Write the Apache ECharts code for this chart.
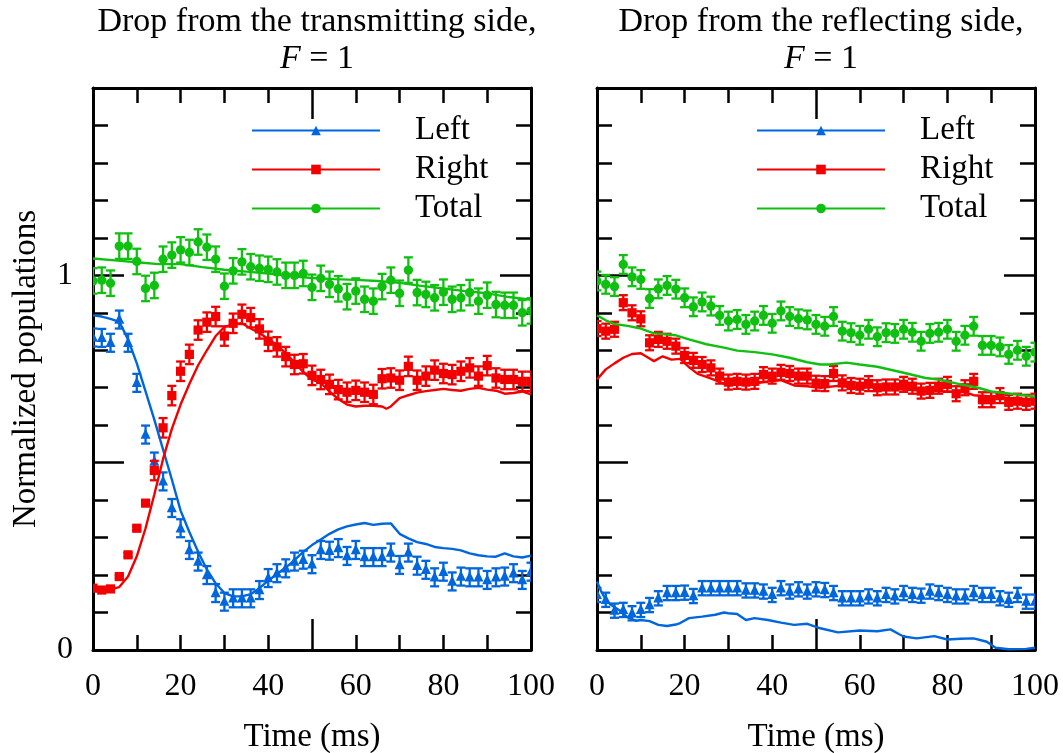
<!DOCTYPE html>
<html>
<head>
<meta charset="utf-8">
<script src="https://cdn.jsdelivr.net/npm/echarts@6/dist/echarts.min.js"></script>
<style>html,body{margin:0;padding:0;background:#fff}#c{width:1063px;height:753px}</style>
</head>
<body>
<div id="c"></div>
<script>
// ---------------- DATA ----------------
const panelTitles = ['Drop from the transmitting side,', 'Drop from the reflecting side,'];
const seriesNames = ['Left', 'Right', 'Total'];
const xTickLabels = [0, 20, 40, 60, 80, 100];
const yTickLabels = [0, 1];

// measurement times (ms)
const times = [0,2,4,6,8,10,12,14,16,18,20,22,24,26,28,30,32,34,36,38,40,42,44,46,48,50,
  52,54,56,58,60,62,64,66,68,70,72,74,76,78,80,82,84,86,88,90,92,94,96,98,100];

// Panel 1: drop from the transmitting side (measured)
const leftT = [0.834,0.833,0.82,0.882,0.82,0.713,0.575,0.503,0.45,0.379,0.325,0.267,0.236,0.2,0.152,0.129,0.138,0.138,0.138,0.16,0.192,0.205,0.218,0.236,0.241,0.229,
  0.267,0.265,0.272,0.251,0.267,0.248,0.248,0.248,0.26,0.227,0.26,0.225,0.214,0.194,0.209,0.183,0.196,0.194,0.194,0.187,0.194,0.196,0.205,0.187,0.209];
const rightT = [0.165,0.16,0.163,0.196,0.254,0.325,0.392,0.479,0.593,0.679,0.744,0.789,0.854,0.875,0.89,0.838,0.872,0.896,0.887,0.857,0.824,0.809,0.783,0.762,0.764,0.733,
  0.722,0.709,0.695,0.688,0.693,0.688,0.682,0.724,0.726,0.72,0.757,0.72,0.731,0.747,0.738,0.735,0.744,0.753,0.731,0.759,0.726,0.722,0.722,0.717,0.717];
const totalT = [0.985,0.987,0.979,1.078,1.078,1.037,0.965,0.973,1.043,1.054,1.068,1.061,1.089,1.075,1.043,0.971,1.012,1.036,1.023,1.019,1.016,1.009,1.0,1.0,1.005,0.968,
  0.992,0.976,0.964,0.943,0.958,0.936,0.931,0.97,0.987,0.952,1.014,0.954,0.949,0.94,0.955,0.936,0.94,0.954,0.931,0.947,0.922,0.92,0.92,0.9,0.905];
// error bar half-widths
const errLeftT = 0.024;
const errRightT = [0.004,0.004,0.004,0.004,0.005,0.005,0.005,0.026,0.026,0.026,0.026,0.026,0.026,0.026,0.026,0.026,0.026,0.026,0.026,0.026,0.026,0.026,0.026,0.026,0.026,0.026,
  0.026,0.026,0.026,0.026,0.026,0.026,0.026,0.026,0.026,0.026,0.026,0.026,0.026,0.026,0.026,0.026,0.026,0.026,0.026,0.026,0.026,0.026,0.026,0.026,0.026];
const errTotalT = 0.034;

// Panel 1 simulations [t, value]
const simLeftT = [[0,0.893],[2,0.89],[4,0.884],[6,0.876],[8,0.829],[10,0.765],[12,0.69],[14,0.615],[16,0.535],[18,0.455],[20,0.372],[22,0.315],[24,0.262],[26,0.215],[28,0.178],[30,0.152],[32,0.143],[34,0.143],[36,0.149],[38,0.165],[40,0.185],[42,0.203],[44,0.22],[46,0.24],[48,0.262],[50,0.28],[52,0.295],[54,0.31],[56,0.322],[58,0.33],[60,0.335],[62,0.339],[64,0.334],[66,0.337],[68,0.338],[70,0.31],[72,0.298],[74,0.288],[76,0.283],[78,0.275],[80,0.272],[82,0.27],[84,0.266],[86,0.258],[88,0.253],[90,0.25],[92,0.249],[94,0.258],[96,0.25],[98,0.247],[100,0.252]];
const simRightT = [[0,0.165],[2,0.163],[4,0.162],[6,0.168],[8,0.196],[10,0.25],[12,0.325],[14,0.415],[16,0.51],[18,0.59],[20,0.655],[22,0.71],[24,0.76],[26,0.8],[28,0.838],[30,0.862],[32,0.87],[34,0.872],[36,0.858],[38,0.846],[40,0.83],[42,0.814],[44,0.792],[46,0.768],[48,0.742],[50,0.722],[52,0.712],[54,0.69],[56,0.67],[58,0.655],[60,0.65],[62,0.652],[64,0.652],[66,0.65],[67,0.644],[68,0.65],[70,0.672],[72,0.68],[74,0.687],[76,0.691],[78,0.694],[80,0.697],[82,0.694],[84,0.692],[86,0.697],[88,0.7],[90,0.695],[92,0.692],[94,0.684],[96,0.686],[98,0.69],[100,0.682]];
const simTotalT = [[0,1.045],[5,1.04],[10,1.035],[15,1.03],[20,1.03],[25,1.022],[30,1.015],[35,1.01],[40,1.005],[45,0.998],[50,0.993],[55,0.99],[60,0.988],[65,0.985],[70,0.98],[75,0.972],[80,0.965],[85,0.958],[90,0.952],[95,0.942],[100,0.935]];

// Panel 2: drop from the reflecting side (measured)
const leftR = [0.147,0.134,0.105,0.107,0.098,0.107,0.12,0.138,0.152,0.152,0.153,0.144,0.165,0.165,0.165,0.165,0.165,0.159,0.159,0.156,0.147,0.165,0.156,0.162,0.156,0.162,
  0.16,0.152,0.138,0.138,0.138,0.143,0.138,0.147,0.143,0.152,0.147,0.145,0.156,0.152,0.147,0.143,0.143,0.152,0.147,0.147,0.138,0.134,0.147,0.129,0.129];
const rightR = [0.858,0.851,0.856,0.927,0.9,0.884,0.82,0.829,0.824,0.811,0.786,0.773,0.762,0.753,0.731,0.715,0.717,0.715,0.717,0.735,0.731,0.741,0.738,0.731,0.731,0.712,
  0.711,0.738,0.713,0.706,0.704,0.711,0.7,0.702,0.702,0.709,0.704,0.691,0.693,0.704,0.709,0.684,0.7,0.717,0.668,0.668,0.679,0.661,0.664,0.661,0.664];
const totalR = [0.985,0.976,0.97,1.029,0.996,0.989,0.938,0.964,0.973,0.963,0.94,0.916,0.929,0.918,0.893,0.878,0.882,0.869,0.878,0.893,0.872,0.905,0.89,0.884,0.881,0.869,
  0.864,0.89,0.851,0.847,0.84,0.856,0.836,0.847,0.845,0.856,0.848,0.824,0.845,0.848,0.856,0.824,0.84,0.864,0.813,0.813,0.809,0.789,0.8,0.784,0.795];
const errLeftR = 0.019;
const errRightR = 0.02;
const errTotalR = 0.025;

// Panel 2 simulations [t, value]
const simLeftR = [[0,0.183],[1,0.155],[2,0.135],[3,0.122],[5,0.107],[7,0.087],[9,0.078],[10,0.08],[12,0.077],[14,0.067],[16,0.064],[18,0.068],[19,0.072],[21,0.085],[24,0.089],[27,0.094],[29,0.1],[30,0.098],[32,0.096],[34,0.08],[36,0.085],[39,0.08],[42,0.073],[45,0.067],[48,0.07],[50,0.062],[51,0.058],[55,0.047],[60,0.052],[64,0.05],[67,0.055],[69,0.042],[70,0.036],[73,0.031],[77,0.037],[80,0.028],[83,0.03],[86,0.031],[89,0.022],[91,0.006],[94,0.002],[98,0.003],[100,0.006]];
const simRightR = [[0,0.722],[2,0.749],[4,0.765],[6,0.78],[8,0.79],[10,0.792],[12,0.778],[13,0.771],[15,0.784],[17,0.775],[19,0.777],[21,0.755],[23,0.737],[25,0.729],[27,0.72],[30,0.706],[33,0.711],[36,0.711],[39,0.717],[42,0.72],[45,0.706],[48,0.704],[51,0.7],[55,0.705],[60,0.7],[65,0.702],[70,0.695],[75,0.692],[80,0.69],[84,0.688],[86,0.68],[90,0.677],[95,0.672],[100,0.668]];
const simTotalR = [[0,0.893],[2,0.88],[4,0.87],[7,0.865],[10,0.858],[13,0.845],[16,0.842],[18,0.84],[21,0.829],[25,0.816],[29,0.807],[32,0.799],[36,0.795],[40,0.789],[44,0.78],[48,0.768],[51,0.762],[53,0.762],[57,0.767],[60,0.762],[64,0.756],[67,0.748],[70,0.74],[75,0.726],[78,0.722],[83,0.709],[87,0.7],[90,0.69],[96,0.682],[100,0.676]];

// ---------------- STYLE ----------------
const FONT = 'Liberation Serif';
const COLORS = {Left: '#0066dd', Right: '#f20000', Total: '#10c010'};
const SHAPES = {Left: 'triangle', Right: 'rect', Total: 'circle'};
const grids = [
  {left: 93, width: 438, top: 88, height: 562, outerBoundsMode: 'none', containLabel: false},
  {left: 597, width: 438, top: 88, height: 562, outerBoundsMode: 'none', containLabel: false}
];
const black = '#000';
const axLine = {show: true, onZero: false, lineStyle: {color: black, width: 3}};
const majTick = {inside: true, length: 31, lineStyle: {color: black, width: 2.5}};
const minTick = {show: true, splitNumber: 5, length: 15, lineStyle: {color: black, width: 2.5}};

function xAxesFor(g) {
  const base = {gridIndex: g, type: 'value', min: 0, max: 100, interval: 50, splitLine: {show: false},
    minorSplitLine: {show: false}, axisLine: axLine, axisTick: majTick, minorTick: minTick};
  return [
    Object.assign({}, base, {position: 'bottom',
      axisLabel: {margin: 21, fontSize: 32, fontFamily: FONT, color: black, customValues: xTickLabels,
        formatter: v => String(v)},
      name: 'Time (ms)', nameLocation: 'middle', nameGap: 71,
      nameTextStyle: {fontSize: 33, fontFamily: FONT, color: black}}),
    Object.assign({}, base, {position: 'top', axisLabel: {show: false}})
  ];
}
function yAxesFor(g) {
  const base = {gridIndex: g, type: 'value', min: 0, max: 1.5, interval: 0.5, splitLine: {show: false},
    minorSplitLine: {show: false}, axisLine: axLine, axisTick: majTick, minorTick: minTick};
  const main = Object.assign({}, base, {position: 'left',
    axisLabel: {show: g === 0, margin: 20, fontSize: 32, fontFamily: FONT, color: black, customValues: yTickLabels,
      formatter: v => String(Math.round(v))}});
  if (g === 0) Object.assign(main, {name: 'Normalized populations', nameLocation: 'middle', nameGap: 50,
    nameTextStyle: {fontSize: 33, fontFamily: FONT, color: black}});
  return [main, Object.assign({}, base, {position: 'right', axisLabel: {show: false}})];
}

function errRender(shape, color) {
  return function (params, api) {
    const x = api.value(0), y = api.value(1), e = api.value(2);
    const p = api.coord([x, y]);
    const t = api.coord([x, y + e]);
    const b = api.coord([x, y - e]);
    const cw = 4.5;
    const st = {stroke: color, lineWidth: 2.3};
    const ch = [
      {type: 'line', shape: {x1: p[0], y1: t[1], x2: p[0], y2: b[1]}, style: st},
      {type: 'line', shape: {x1: p[0] - cw, y1: t[1], x2: p[0] + cw, y2: t[1]}, style: st},
      {type: 'line', shape: {x1: p[0] - cw, y1: b[1], x2: p[0] + cw, y2: b[1]}, style: st}
    ];
    if (shape === 'circle') ch.push({type: 'circle', shape: {cx: p[0], cy: p[1], r: 4.7}, style: {fill: color}});
    else if (shape === 'rect') ch.push({type: 'rect', shape: {x: p[0] - 4.6, y: p[1] - 4.6, width: 9.2, height: 9.2}, style: {fill: color}});
    else ch.push({type: 'polygon', shape: {points: [[p[0], p[1] - 6], [p[0] - 5, p[1] + 4.2], [p[0] + 5, p[1] + 4.2]]}, style: {fill: color}});
    return {type: 'group', children: ch};
  };
}

function pointsData(vals, err) {
  return times.map((t, i) => [t, vals[i], Array.isArray(err) ? err[i] : err]);
}

const panels = [
  {meas: {Left: leftT, Right: rightT, Total: totalT}, err: {Left: errLeftT, Right: errRightT, Total: errTotalT},
   sim: {Left: simLeftT, Right: simRightT, Total: simTotalT}},
  {meas: {Left: leftR, Right: rightR, Total: totalR}, err: {Left: errLeftR, Right: errRightR, Total: errTotalR},
   sim: {Left: simLeftR, Right: simRightR, Total: simTotalR}}
];

const series = [];
panels.forEach((pn, g) => {
  seriesNames.forEach(nm => {
    series.push({
      type: 'custom', xAxisIndex: g * 2, yAxisIndex: g * 2, silent: true, clip: true,
      renderItem: errRender(SHAPES[nm], COLORS[nm]), encode: {x: 0, y: 1},
      data: pointsData(pn.meas[nm], pn.err[nm]), z: 2
    });
  });
  seriesNames.forEach(nm => {
    series.push({
      name: nm, type: 'line', xAxisIndex: g * 2, yAxisIndex: g * 2, data: pn.sim[nm],
      symbol: SHAPES[nm], showSymbol: false, symbolSize: 9,
      lineStyle: {color: COLORS[nm], width: 2.4}, itemStyle: {color: COLORS[nm]},
      silent: true, emphasis: {disabled: true}, z: 3, clip: true
    });
  });
});

const xAxis = [].concat(xAxesFor(0), xAxesFor(1));
const yAxis = [].concat(yAxesFor(0), yAxesFor(1));

const legendBase = {
  data: seriesNames, orient: 'vertical', top: 109, itemWidth: 128, itemHeight: 12, itemGap: 6,
  selectedMode: false,
  textStyle: {fontSize: 33, lineHeight: 33, fontFamily: FONT, color: black, padding: [0, 0, 0, 30]}
};

const option = {
  animation: false,
  backgroundColor: '#fff',
  title: panelTitles.map((t, i) => ({
    text: t + '\n{i|F} = 1',
    left: grids[i].left + grids[i].width / 2, top: -1, textAlign: 'center',
    textStyle: {fontSize: 34, fontWeight: 'normal', fontFamily: FONT, color: black, lineHeight: 37,
      rich: {i: {fontStyle: 'italic', fontSize: 34, fontFamily: FONT, color: black, lineHeight: 37}}}
  })),
  grid: grids,
  xAxis: xAxis,
  yAxis: yAxis,
  legend: [Object.assign({}, legendBase, {left: 246}), Object.assign({}, legendBase, {left: 751})],
  series: series
};

const chart = echarts.init(document.getElementById('c'), null, {renderer: 'canvas'});
chart.setOption(option);
</script>
</body>
</html>
